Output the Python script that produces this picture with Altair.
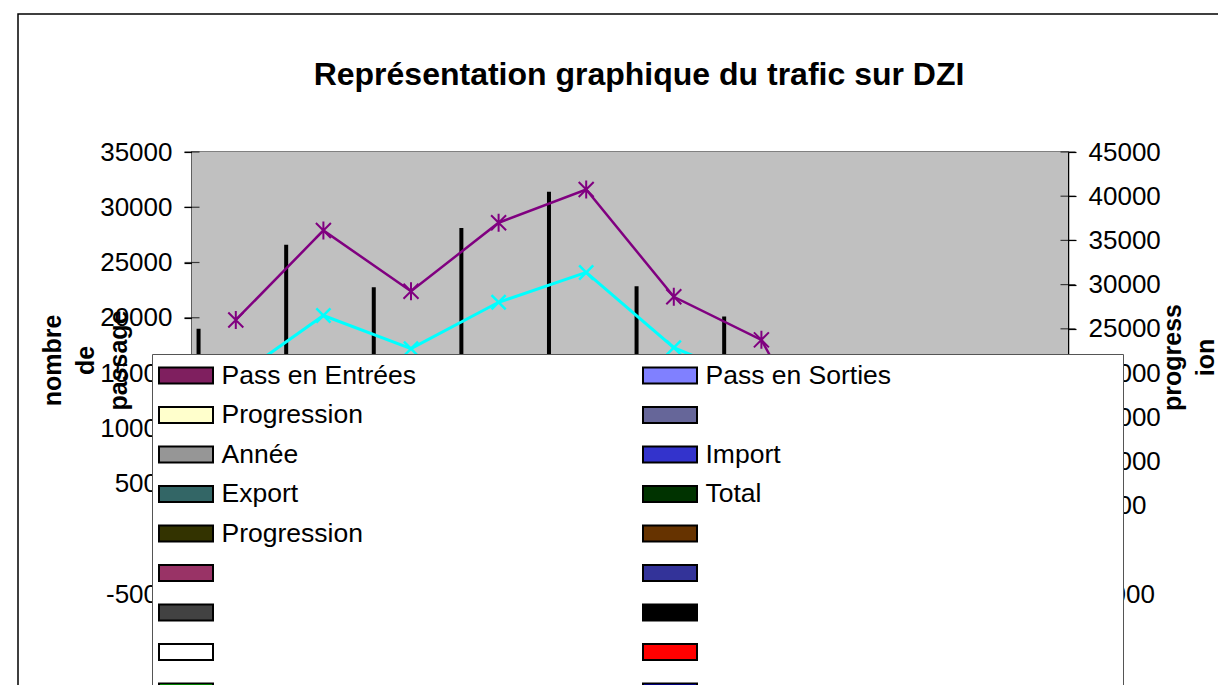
import json
import altair as alt
import pandas as pd

# ---------------- data ----------------
categories = ["1", "2", "3", "4", "5", "6", "7", "8", "9", "10"]

bar_categories = ["1", "2", "3", "4", "5", "6", "7"]
bar_values = [25000, 34500, 29700, 36400, 40500, 29800, 26400]

entrees_categories = ["1", "2", "3", "4", "5", "6", "7", "8"]
entrees_values = [19800, 27900, 22400, 28600, 31600, 21900, 18000, 3500]

sorties_categories = ["1", "2", "3", "4", "5", "6", "7"]
sorties_values = [14600, 20200, 17200, 21400, 24100, 17300, 14000]

left_ticks = [-5000, 0, 5000, 10000, 15000, 20000, 25000, 30000, 35000]
right_ticks = [-5000, 0, 5000, 10000, 15000, 20000, 25000, 30000, 35000, 40000, 45000]

legend_labels = ["Pass en Entrées", "Pass en Sorties", "Progression", "", "Année", "Import",
                 "Export", "Total", "Progression", "", "", "", "", "", "", "", "", ""]
legend_colors = ["#7F1F5F", "#8080FF", "#FFFFCC", "#666699", "#969696", "#3333CC",
                 "#336666", "#003300", "#333300", "#663300", "#993366", "#333399",
                 "#424242", "#000000", "#FFFFFF", "#FF0000", "#00FF00", "#0000FF"]

title_text = "Représentation graphique du trafic sur DZI"
left_title = ["nombre", "de", "passage"]
right_title = ["progress", "ion"]

# ---------------- styling ----------------
FONT = "Liberation Sans"
ASTERISK = "M-1,-1L1,1M-1,1L1,-1M0,-1.2L0,1.2"
XMARK = "M-1,-1L1,1M-1,1L1,-1"
SWATCH = "M-2,-0.6L2,-0.6L2,0.6L-2,0.6Z"

legend_keys = ["k%d" % i for i in range(len(legend_labels))]
label_list = list(legend_labels)
# invisible spacer that widens the legend's second column (zero-width chars keep it from being trimmed)
pad_label = "\u200b" + "\u00a0" * 55 + "\u2009" + "\u200b"
label_expr = (
    "datum.value == 'k3' ? " + json.dumps(pad_label, ensure_ascii=False) + " : "
    + json.dumps(label_list, ensure_ascii=False)
    + "[indexof(" + json.dumps(legend_keys) + ", datum.value)]"
)

df_bars = pd.DataFrame({"cat": bar_categories, "value": bar_values})
df_e = pd.DataFrame({"cat": entrees_categories, "value": entrees_values})
df_s = pd.DataFrame({"cat": sorties_categories, "value": sorties_values})
df_leg = pd.DataFrame({"key": legend_keys})
df_lt = pd.DataFrame({"value": left_ticks})
df_rt = pd.DataFrame({"value": right_ticks})

x_scale = alt.Scale(type="band", domain=categories, paddingInner=0, paddingOuter=0)
left_scale = alt.Scale(domain=[-5000, 35000], nice=False, zero=False)
right_scale = alt.Scale(domain=[-5000, 45000], nice=False, zero=False)

axis_common = dict(
    grid=False, domainColor="black", domainWidth=1.5, tickColor="black", tickSize=8,
    tickWidth=1.2, labelFont=FONT, labelFontSize=26, labelColor="black", labelPadding=12,
    labelExpr="toString(datum.value)", labelOverlap=False, labelFlush=False,
    titleFont=FONT, titleFontSize=25, titleFontWeight="bold", titleColor="black",
    titleAngle=270, titleAlign="center", titleBaseline="alphabetic", titleLineHeight=33,
)
left_axis = alt.Axis(orient="left", values=left_ticks, title=left_title,
                     titleX=-132, titleY=208, **axis_common)
right_axis = alt.Axis(orient="right", values=right_ticks, title=right_title,
                      titleX=112, titleY=205, **axis_common)

xenc = alt.X("cat:O", scale=x_scale, axis=None)

one = pd.DataFrame({"f": [0]})
plot_bg = alt.Chart(one).mark_rect(color="#C0C0C0").encode(
    x=alt.value(0), x2=alt.value("width"), y=alt.value(0), y2=alt.value("height"))
frame = alt.Chart(one).mark_rect(
    fill="transparent", stroke="black", strokeWidth=1.5
).encode(x=alt.value(-174), x2=alt.value(2000), y=alt.value(-138), y2=alt.value(2000))

ry = alt.Y("value:Q", scale=right_scale, axis=right_axis)
bars = alt.Chart(df_bars).mark_rule(color="black", strokeWidth=4).encode(
    x=alt.X("cat:O", scale=x_scale, axis=None, bandPosition=0.075),
    y=ry,
    y2=alt.datum(0),
)
rticks = alt.Chart(df_rt).mark_tick(color="black", thickness=1.2, size=15, orient="horizontal").encode(
    x=alt.value("width"), y=ry)
right_group = alt.layer(bars, rticks)

ly = alt.Y("value:Q", scale=left_scale, axis=left_axis)
lticks = alt.Chart(df_lt).mark_tick(color="black", thickness=1.2, size=15, orient="horizontal").encode(
    x=alt.value(0), y=ly)
line_e = alt.Chart(df_e).mark_line(color="#800080", strokeWidth=2.5).encode(x=xenc, y=ly)
pts_e = alt.Chart(df_e).mark_point(shape=ASTERISK, size=225, color="#800080",
                                   strokeWidth=2, filled=False, opacity=1).encode(x=xenc, y=ly)
line_s = alt.Chart(df_s).mark_line(color="#00FFFF", strokeWidth=3).encode(x=xenc, y=ly)
pts_s = alt.Chart(df_s).mark_point(shape=XMARK, size=200, color="#00FFFF",
                                   strokeWidth=2.5, filled=False, opacity=1).encode(x=xenc, y=ly)
left_group = alt.layer(lticks, line_e, pts_e, line_s, pts_s)

leg = alt.Chart(df_leg).mark_square(filled=True, stroke="black", strokeWidth=2, opacity=1).encode(
    color=alt.Color(
        "key:N",
        scale=alt.Scale(domain=legend_keys, range=legend_colors),
        legend=alt.Legend(
            orient="none", legendX=-40, legendY=202, columns=2, direction="horizontal",
            title=None,
            symbolType=SWATCH, symbolSize=729, symbolStrokeColor="black",
            symbolStrokeWidth=2, symbolOpacity=1, symbolOffset=12.5,
            labelFont=FONT, labelFontSize=26.5, labelColor="black", labelLimit=1000,
            labelOffset=21, labelExpr=label_expr,
            fillColor="white", strokeColor="#555555", padding=7,
            rowPadding=11.5, columnPadding=223, zindex=5,
        ),
    )
).transform_filter("false")

chart = alt.layer(plot_bg, frame, right_group, left_group, leg).resolve_scale(
    y="independent"
).properties(
    width=876, height=442,
    autosize=alt.AutoSizeParams(type="none"),
    padding={"left": 184, "top": 144, "right": 150, "bottom": 91},
    title=alt.Title(title_text, font=FONT, fontSize=32, fontWeight="bold", color="black",
                    anchor="middle", dx=9, offset=0, dy=104, baseline="alphabetic"),
).configure(
    background="white",
    view=alt.ViewConfig(fill="#C0C0C0", stroke="#808080", strokeWidth=2),
)

chart.save("out.html", embed_options={"renderer": "svg", "actions": False})
